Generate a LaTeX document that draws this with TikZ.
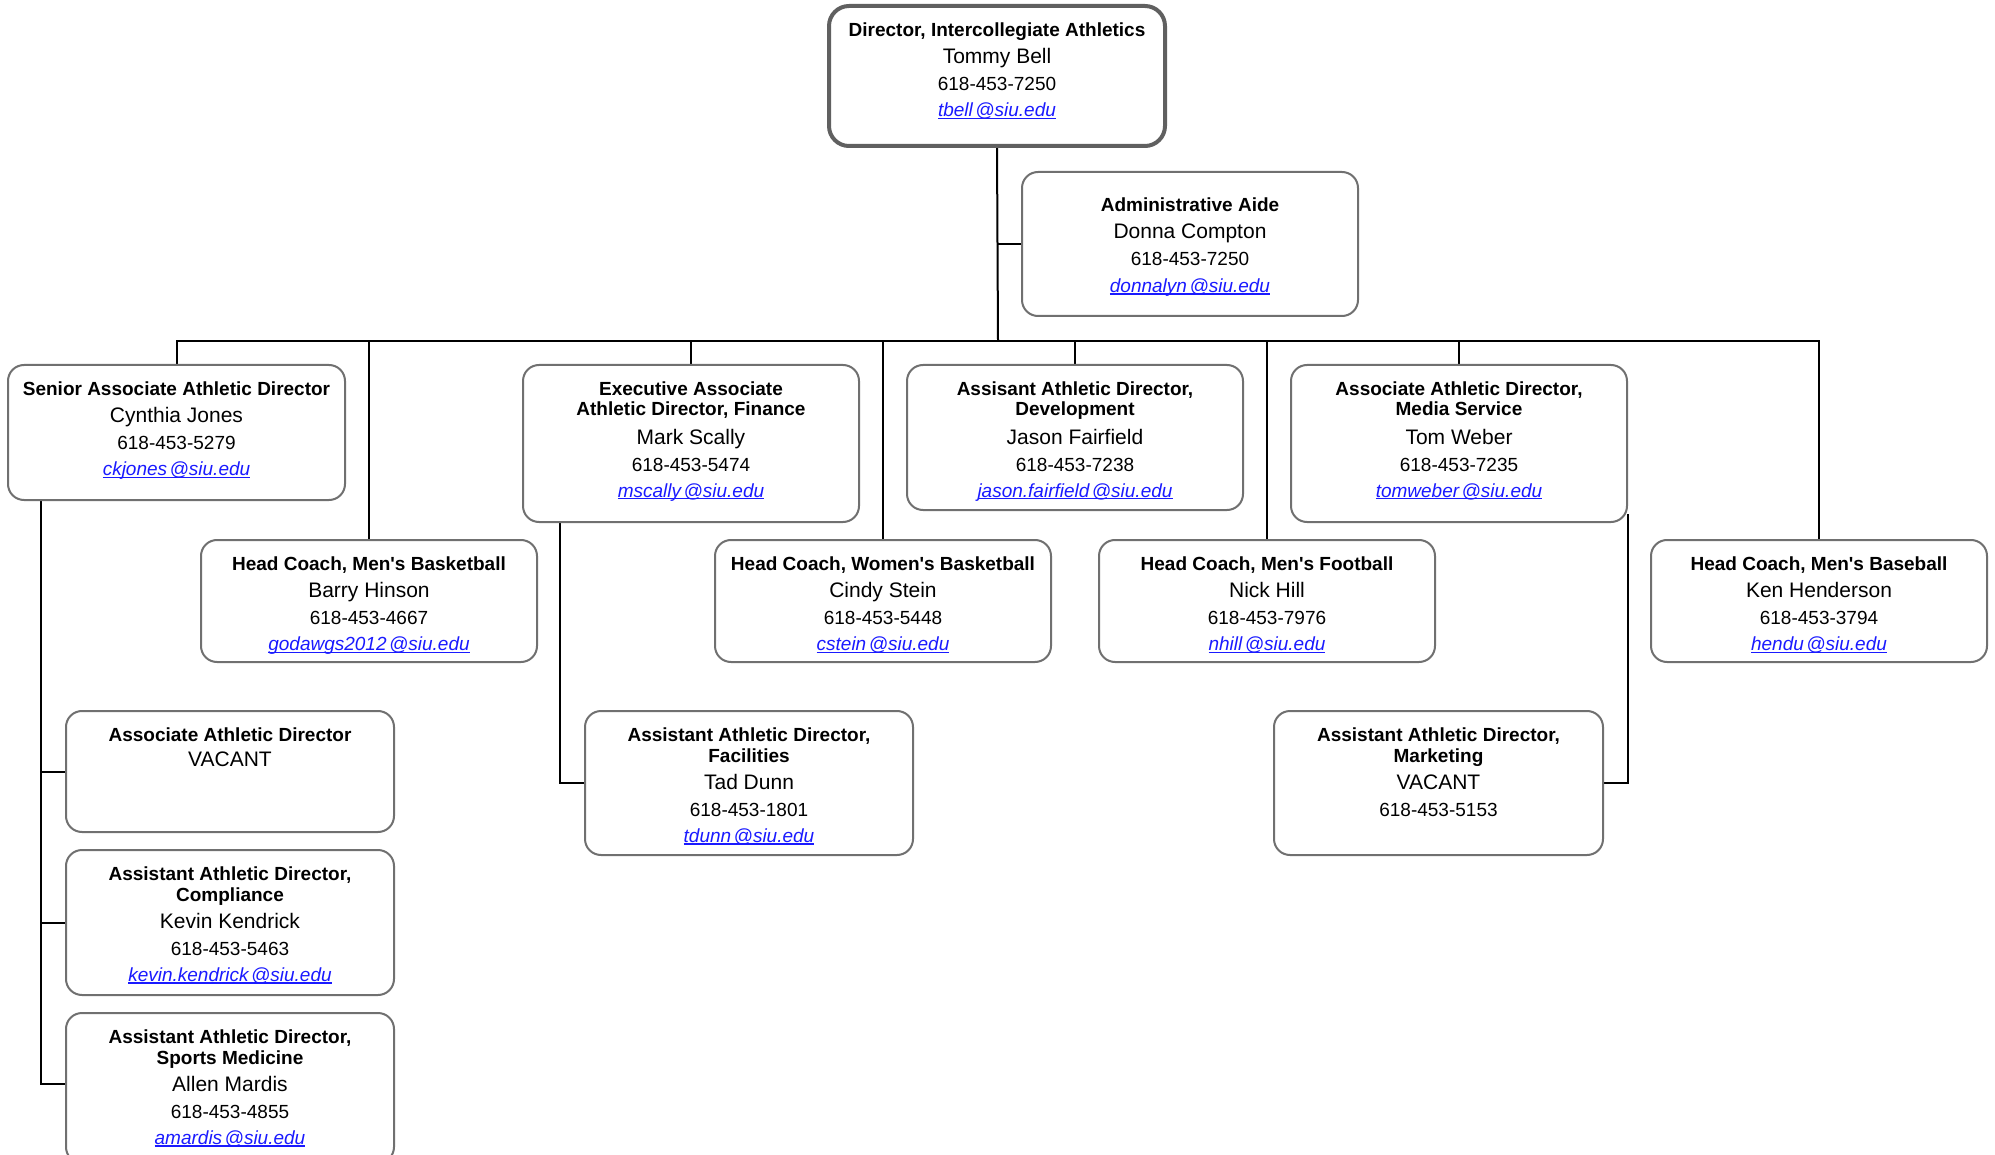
\documentclass[tikz,border=0pt]{standalone}
\usepackage{fontspec}
\setmainfont{Liberation Sans}
\usetikzlibrary{backgrounds}
\definecolor{bordergray}{HTML}{707070}
\definecolor{dirgray}{HTML}{606060}
\definecolor{linkblue}{HTML}{1A1AFF}
\newcommand\ulmail[1]{\setbox0\hbox{#1}\rlap{\rule[-2.4pt]{\wd0}{1.1pt}}\box0}
\newcommand\mail[2]{{\itshape\color{linkblue}\ulmail{#1\kern2.5pt@#2}}}
\newcommand\nm[1]{{\fontsize{21}{21}\selectfont #1}}
\newcommand\ttl[1]{\textbf{#1}}
\newcommand\ap{\textquotesingle}
\tikzset{
  orgbox/.style={draw=bordergray, line width=2pt, rounded corners=16pt, fill=white, inner sep=0pt},
  dirbox/.style={orgbox, draw=dirgray, line width=4pt, rounded corners=20pt},
  txt/.style={align=center, inner sep=0pt, anchor=north, font=\fontsize{19}{21}\selectfont},
  conn/.style={line width=2pt, draw=black},
}
% \obox[style]{name}{x}{y}{w}{h}{offset}{content}
\newcommand\obox[8][orgbox]{%
  \node[#1, minimum width=#5pt, minimum height=#6pt] (#2) at ({#3+#5/2},{#4+#6/2}) {};
  \node[txt] (#2-t) at ([yshift=-#7pt]#2.north) {#8};
}
\begin{document}
\begin{tikzpicture}[x=1pt,y=-1pt]
\useasboundingbox (0,0) rectangle (1995,1155);

\obox[dirbox]{dir}{829}{6}{336}{140}{18.5}{\ttl{Director, Intercollegiate Athletics}\\[6pt]\nm{Tommy Bell}\\[5.7pt]618-453-7250\\[5.5pt]\mail{tbell}{siu.edu}}
\obox{aide}{1022}{172}{336}{144}{27}{\ttl{Administrative Aide}\\[6pt]\nm{Donna Compton}\\[5.7pt]618-453-7250\\[5.5pt]\mail{donnalyn}{siu.edu}}

\obox{senior}{8}{365}{337}{135}{17.5}{\ttl{Senior Associate Athletic Director}\\[6pt]\nm{Cynthia Jones}\\[5.7pt]618-453-5279\\[5.5pt]\mail{ckjones}{siu.edu}}
\obox{exec}{523}{365}{336}{157}{17.5}{\ttl{Executive Associate}\\[-0.6pt]\ttl{Athletic Director, Finance}\\[7.5pt]\nm{Mark Scally}\\[5.7pt]618-453-5474\\[5pt]\mail{mscally}{siu.edu}}
\obox{dev}{907}{365}{336}{145}{17.5}{\ttl{Assisant Athletic Director,}\\[-0.6pt]\ttl{Development}\\[7.5pt]\nm{Jason Fairfield}\\[5.7pt]618-453-7238\\[5pt]\mail{jason.fairfield}{siu.edu}}
\obox{media}{1291}{365}{336}{157}{17.5}{\ttl{Associate Athletic Director,}\\[-0.6pt]\ttl{Media Service}\\[7.5pt]\nm{Tom Weber}\\[5.7pt]618-453-7235\\[5pt]\mail{tomweber}{siu.edu}}

\obox{mbb}{201}{540}{336}{122}{17.5}{\ttl{Head Coach, Men\ap s Basketball}\\[6pt]\nm{Barry Hinson}\\[5.7pt]618-453-4667\\[5.5pt]\mail{godawgs2012}{siu.edu}}
\obox{wbb}{715}{540}{336}{122}{17.5}{\ttl{Head Coach, Women\ap s Basketball}\\[6pt]\nm{Cindy Stein}\\[5.7pt]618-453-5448\\[5.5pt]\mail{cstein}{siu.edu}}
\obox{fb}{1099}{540}{336}{122}{17.5}{\ttl{Head Coach, Men\ap s Football}\\[6pt]\nm{Nick Hill}\\[5.7pt]618-453-7976\\[5.5pt]\mail{nhill}{siu.edu}}
\obox{bb}{1651}{540}{336}{122}{17.5}{\ttl{Head Coach, Men\ap s Baseball}\\[6pt]\nm{Ken Henderson}\\[5.7pt]618-453-3794\\[5.5pt]\mail{hendu}{siu.edu}}

\obox{vac}{66}{711}{328}{121}{17.5}{\ttl{Associate Athletic Director}\\[4.5pt]\nm{VACANT}}
\obox{comp}{66}{850}{328}{145}{17.5}{\ttl{Assistant Athletic Director,}\\[0pt]\ttl{Compliance}\\[6pt]\nm{Kevin Kendrick}\\[5.7pt]618-453-5463\\[5pt]\mail{kevin.kendrick}{siu.edu}}
\obox{sm}{66}{1013}{328}{150}{17.5}{\ttl{Assistant Athletic Director,}\\[0pt]\ttl{Sports Medicine}\\[6pt]\nm{Allen Mardis}\\[5.7pt]618-453-4855\\[5pt]\mail{amardis}{siu.edu}}
\obox{fac}{585}{711}{328}{144}{17.5}{\ttl{Assistant Athletic Director,}\\[0pt]\ttl{Facilities}\\[6pt]\nm{Tad Dunn}\\[5.7pt]618-453-1801\\[5pt]\mail{tdunn}{siu.edu}}
\obox{mkt}{1274}{711}{329}{144}{17.5}{\ttl{Assistant Athletic Director,}\\[0pt]\ttl{Marketing}\\[6pt]\nm{VACANT}\\[5.7pt]618-453-5153}

\begin{scope}[on background layer]
  \coordinate (bus) at (998,341);
  \draw[conn] (dir.south) -- (bus);
  \draw[conn] (dir.south |- aide.west) -- (aide.west);
  \draw[conn] (senior.north) -- (senior.north |- bus) -- (bb.north |- bus) -- (bb.north);
  \foreach \n in {mbb,exec,wbb,dev,fb,media} \draw[conn] (\n.north) -- (\n.north |- bus);
  \coordinate (sA) at ([xshift=34pt]senior.south west);
  \draw[conn] (sA) |- ([yshift=4pt]sm.west);
  \draw[conn] (sA |- vac.west) -- (vac.west);
  \draw[conn] (sA |- comp.west) -- (comp.west);
  \draw[conn] ([xshift=38pt]exec.south west) |- (fac.west);
  \draw[conn] ([yshift=9pt]media.south east) |- (mkt.east);
\end{scope}
\end{tikzpicture}
\end{document}
